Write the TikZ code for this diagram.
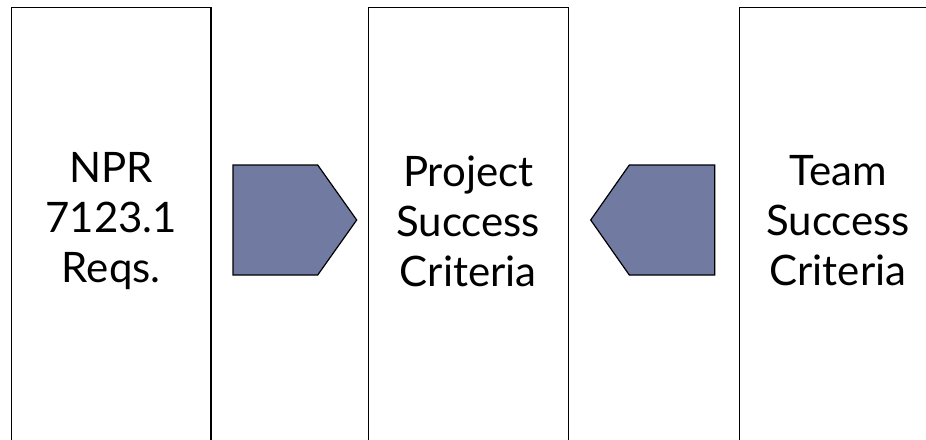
\documentclass[tikz,border=0pt]{standalone}
\usepackage{fontspec}
\setmainfont{Lato}
\begin{document}
\begin{tikzpicture}[x=1pt,y=-1pt,
  colbox/.style={draw=black,line width=1.5pt,fill=white,minimum width=199.5pt,minimum height=440pt,inner sep=0pt,outer sep=0pt},
  boxtext/.style={font=\fontsize{42}{50}\selectfont,align=center,text=black,inner sep=0pt},
  pent/.style={draw=black,line width=1.2pt,fill=pentfill,line join=miter}]
\definecolor{pentfill}{RGB}{113,123,161}
\useasboundingbox (0,0) rectangle (926,439);
\clip (0,0) rectangle (926,439);
\node[colbox] (lbox) at (111.25,227.5) {};
\node[colbox,minimum width=200pt] (mbox) at (468.25,227.5) {};
\node[colbox] (rbox) at (839,227.5) {};
\node[boxtext] (ltext) at (111.25,221) {NPR\\7123.1\\Reqs.};
\node[boxtext] (mtext) at (468.25,221) {Project\\Success\\Criteria};
\node[boxtext] (rtext) at (838,221) {Team\\Success\\Criteria};
\draw[pent] (233,165) -- (317.7,165) -- (356.7,220) -- (317.7,275) -- (233,275) -- cycle;
\draw[pent] (714.7,165) -- (629.3,165) -- (590.7,220) -- (629.3,275) -- (714.7,275) -- cycle;
\end{tikzpicture}
\end{document}
